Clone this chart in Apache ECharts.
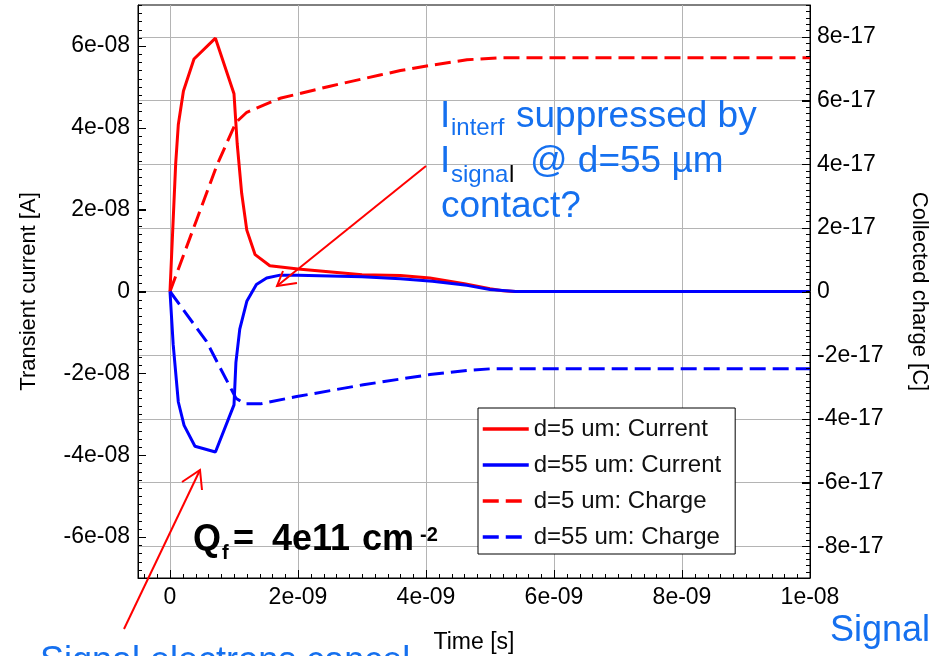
<!DOCTYPE html>
<html>
<head>
<meta charset="utf-8">
<script src="https://cdn.jsdelivr.net/npm/echarts@6/dist/echarts.min.js"></script>
<style>
html,body{margin:0;padding:0;background:#fff;}
#chart{width:931px;height:656px;}
</style>
</head>
<body>
<div id="chart"></div>
<script>
// ---- data (time in s, current in A, charge in C) ----
const tRedCur = [0, 0.089e-9, 0.13e-9, 0.21e-9, 0.375e-9, 0.71e-9, 1.0e-9, 1.05e-9, 1.12e-9, 1.2e-9, 1.33e-9, 1.56e-9, 2.0e-9, 3.0e-9, 3.6e-9, 4.06e-9, 4.6e-9, 5.0e-9, 5.2e-9, 5.4e-9, 1e-8];
const iRedCur = [0, 3.13e-8, 4.08e-8, 4.9e-8, 5.68e-8, 6.19e-8, 4.83e-8, 3.61e-8, 2.4e-8, 1.5e-8, 0.9e-8, 0.63e-8, 0.55e-8, 0.41e-8, 0.39e-8, 0.33e-8, 0.19e-8, 0.065e-8, 0.02e-8, 0, 0];

const tBlueCur = [0, 0.05e-9, 0.13e-9, 0.22e-9, 0.39e-9, 0.71e-9, 1.0e-9, 1.03e-9, 1.09e-9, 1.2e-9, 1.35e-9, 1.51e-9, 1.72e-9, 2.0e-9, 3.0e-9, 3.6e-9, 4.1e-9, 4.64e-9, 5.0e-9, 5.4e-9, 1e-8];
const iBlueCur = [0, -1.3e-8, -2.7e-8, -3.27e-8, -3.78e-8, -3.92e-8, -2.77e-8, -1.73e-8, -0.92e-8, -0.24e-8, 0.17e-8, 0.33e-8, 0.40e-8, 0.40e-8, 0.36e-8, 0.31e-8, 0.25e-8, 0.15e-8, 0.05e-8, 0, 0];

const tRedChg = [0, 0.42e-9, 0.73e-9, 1.03e-9, 1.2e-9, 1.72e-9, 2.5e-9, 3.28e-9, 3.6e-9, 4.06e-9, 4.64e-9, 5.16e-9, 1e-8];
const qRedChg = [0, 2.27e-17, 3.95e-17, 5.31e-17, 5.63e-17, 6.07e-17, 6.45e-17, 6.8e-17, 6.94e-17, 7.1e-17, 7.28e-17, 7.34e-17, 7.34e-17];

const tBlueChg = [0, 0.57e-9, 1.03e-9, 1.17e-9, 1.41e-9, 1.98e-9, 3.02e-9, 3.6e-9, 4.06e-9, 4.64e-9, 5.0e-9, 1e-8];
const qBlueChg = [0, -1.57e-17, -3.35e-17, -3.53e-17, -3.53e-17, -3.3e-17, -2.93e-17, -2.75e-17, -2.61e-17, -2.48e-17, -2.43e-17, -2.43e-17];

const seriesNames = ['d=5 um: Current', 'd=55 um: Current', 'd=5 um: Charge', 'd=55 um: Charge'];

// ---- ticks ----
const xTicks = [0, 2e-9, 4e-9, 6e-9, 8e-9, 1e-8];
const xTickLabels = ['0', '2e-09', '4e-09', '6e-09', '8e-09', '1e-08'];
const yLTicks = [-6e-8, -4e-8, -2e-8, 0, 2e-8, 4e-8, 6e-8];
const yLTickLabels = ['-6e-08', '-4e-08', '-2e-08', '0', '2e-08', '4e-08', '6e-08'];
const yRTicks = [-8e-17, -6e-17, -4e-17, -2e-17, 0, 2e-17, 4e-17, 6e-17, 8e-17];
const yRTickLabels = ['-8e-17', '-6e-17', '-4e-17', '-2e-17', '0', '2e-17', '4e-17', '6e-17', '8e-17'];

const X_MIN = -5e-10, X_MAX = 1e-8;
const YL_MIN = -7e-8, YL_MAX = 7e-8;
const YR_MIN = -9e-17, YR_MAX = 9e-17;

function steps(from, to, step) {
  const out = [];
  const n = Math.round((to - from) / step);
  for (let i = 0; i <= n; i++) out.push(from + i * step);
  return out;
}
const xMinor = steps(-4e-10, 1e-8, 2e-10);
const yLMinor = steps(-7e-8, 7e-8, 2e-9);
const yRMinor = steps(-9e-17, 9e-17, 2e-18);

function fmt(vals, labels) {
  const tol = Math.abs(vals[vals.length - 1]) * 1e-6;
  return function (v) {
    for (let i = 0; i < vals.length; i++) if (Math.abs(v - vals[i]) <= tol) return labels[i];
    return '';
  };
}
function pairs(t, v) { return t.map((x, i) => [x, v[i]]); }

const FONT = '"Liberation Sans", Arial, Helvetica, sans-serif';
const BLUE_TXT = '#1570ef';
const GRID_C = '#b4b4b4';

const chart = echarts.init(document.getElementById('chart'), null, {renderer: 'canvas'});

const txt = (x, y, s, size, color, bold) => ({
  type: 'text', x: x, y: y, z: 100,
  style: {text: s, fill: color, font: (bold ? 'bold ' : '') + size + 'px ' + FONT,
          textAlign: 'left', textVerticalAlign: 'middle'}
});
const pl = (pts) => ({
  type: 'polyline', z: 100, shape: {points: pts},
  style: {stroke: '#ff0000', lineWidth: 2, fill: null}
});

// tick-mark series drawn through the axes' scales (api.coord)
// side: 'bottom' | 'left' | 'right'
function tickSeries(side, values, len, yAxisIndex) {
  let data;
  if (side === 'bottom') data = values.map(v => [v, YL_MIN]);
  else if (side === 'left') data = values.map(v => [X_MIN, v]);
  else data = values.map(v => [X_MAX, v]);
  return {
    type: 'custom', xAxisIndex: 0, yAxisIndex: yAxisIndex, data: data,
    silent: true, clip: false, z: 6, animation: false,
    renderItem: function (params, api) {
      const p = api.coord([api.value(0), api.value(1)]);
      let x1, y1, x2, y2;
      if (side === 'bottom') {
        x1 = x2 = Math.round(p[0]) + 0.5; y1 = Math.round(p[1]); y2 = y1 - len;
      } else if (side === 'left') {
        y1 = y2 = Math.round(p[1]) + 0.5; x1 = Math.round(p[0]); x2 = x1 + len;
      } else {
        y1 = y2 = Math.round(p[1]) + 0.5; x1 = Math.round(p[0]); x2 = x1 - len;
      }
      return {type: 'line', shape: {x1: x1, y1: y1, x2: x2, y2: y2},
              style: {stroke: '#000', lineWidth: 1}};
    }
  };
}

const option = {
  animation: false,
  backgroundColor: '#fff',
  grid: {left: 138, right: 121, top: 5, bottom: 78, show: true, borderColor: '#000', borderWidth: 1,
         backgroundColor: 'transparent', containLabel: false, outerBoundsMode: 'none'},
  legend: {
    orient: 'vertical', left: 478, top: 408,
    data: seriesNames,
    itemWidth: 46, itemHeight: 14, itemGap: 12,
    padding: [9, 14, 5, 3],
    backgroundColor: '#fff', borderColor: '#000', borderWidth: 1,
    itemStyle: {opacity: 0},
    lineStyle: {width: 3.5},
    textStyle: {fontSize: 24, color: '#111', fontFamily: FONT},
    selectedMode: false
  },
  xAxis: [
    {
      type: 'value', min: X_MIN, max: X_MAX, position: 'bottom',
      axisLine: {show: true, onZero: false, lineStyle: {color: '#000', width: 1}},
      axisTick: {show: true, inside: true, length: 8, customValues: xTicks, lineStyle: {color: '#000', width: 1}},
      axisLabel: {customValues: xTicks, formatter: fmt(xTicks, xTickLabels), fontSize: 23, color: '#000', fontFamily: FONT, margin: 8},
      splitLine: {show: true, lineStyle: {color: GRID_C, width: 1}},
      name: 'Time [s]', nameLocation: 'middle', nameGap: 53,
      nameTextStyle: {fontSize: 23, color: '#000', fontFamily: FONT}
    }
  ],
  yAxis: [
    {
      type: 'value', min: YL_MIN, max: YL_MAX, position: 'left',
      axisLine: {show: true, onZero: false, lineStyle: {color: '#000', width: 1}},
      axisTick: {show: true, inside: true, length: 8, customValues: yLTicks, lineStyle: {color: '#000', width: 1}},
      axisLabel: {customValues: yLTicks, formatter: fmt(yLTicks, yLTickLabels), fontSize: 23, color: '#000', fontFamily: FONT, margin: 8},
      splitLine: {show: false},
      name: 'Transient current [A]', nameLocation: 'middle', nameGap: 98,
      nameTextStyle: {fontSize: 22, color: '#000', fontFamily: FONT}
    },
    {
      type: 'value', min: YR_MIN, max: YR_MAX, position: 'right',
      axisLine: {show: true, onZero: false, lineStyle: {color: '#000', width: 1}},
      axisTick: {show: true, inside: true, length: 8, customValues: yRTicks, lineStyle: {color: '#000', width: 1}},
      axisLabel: {customValues: yRTicks, formatter: fmt(yRTicks, yRTickLabels), fontSize: 23, color: '#000', fontFamily: FONT, margin: 7},
      splitLine: {show: true, lineStyle: {color: GRID_C, width: 1}},
      name: 'Collected charge [C]', nameLocation: 'middle', nameGap: 98, nameRotate: -90,
      nameTextStyle: {fontSize: 22, color: '#000', fontFamily: FONT}
    }
  ],
  series: [
    {name: seriesNames[0], type: 'line', xAxisIndex: 0, yAxisIndex: 0, data: pairs(tRedCur, iRedCur),
     symbol: 'none', color: '#ff0000', lineStyle: {color: '#ff0000', width: 3}, z: 3},
    {name: seriesNames[1], type: 'line', xAxisIndex: 0, yAxisIndex: 0, data: pairs(tBlueCur, iBlueCur),
     symbol: 'none', color: '#0000ff', lineStyle: {color: '#0000ff', width: 3}, z: 4},
    {name: seriesNames[2], type: 'line', xAxisIndex: 0, yAxisIndex: 1, data: pairs(tRedChg, qRedChg),
     symbol: 'none', color: '#ff0000', lineStyle: {color: '#ff0000', width: 3, type: [16, 7]}, z: 3},
    {name: seriesNames[3], type: 'line', xAxisIndex: 0, yAxisIndex: 1, data: pairs(tBlueChg, qBlueChg),
     symbol: 'none', color: '#0000ff', lineStyle: {color: '#0000ff', width: 3, type: [16, 7]}, z: 3},
    tickSeries('bottom', xMinor, 4, 0),
    tickSeries('bottom', xTicks, 8, 0),
    tickSeries('left', yLMinor, 4, 0),
    tickSeries('left', yLTicks, 8, 0),
    tickSeries('right', yRMinor, 4, 1),
    tickSeries('right', yRTicks, 8, 1)
  ],
  graphic: {elements: [
    txt(440, 117, 'I', 37, BLUE_TXT),
    txt(451, 128.5, 'interf', 24, BLUE_TXT),
    txt(516, 117, 'suppressed by', 37, BLUE_TXT),
    txt(440, 162, 'I', 37, BLUE_TXT),
    txt(451, 175, 'signa', 24, BLUE_TXT),
    txt(509, 175, 'l', 24, '#000'),
    txt(530, 162, '@ d=55 µm', 37, BLUE_TXT),
    txt(441, 207, 'contact?', 37, BLUE_TXT),
    txt(193, 540, 'Q', 36, '#000', true),
    txt(222, 553, 'f', 20, '#000', true),
    txt(233, 540, '=', 36, '#000', true),
    txt(272, 540, '4e11', 36, '#000', true),
    txt(362, 540, 'cm', 36, '#000', true),
    txt(420, 535, '-2', 20, '#000', true),
    txt(40, 662, 'Signal electrons cancel', 36, BLUE_TXT),
    txt(830, 631, 'Signal', 36, BLUE_TXT),
    pl([[426, 166], [277, 286]]),
    pl([[283, 271], [277, 286], [297, 283]]),
    pl([[124, 629], [200, 470]]),
    pl([[182, 482], [200, 470], [202, 490]])
  ]}
};
chart.setOption(option);
</script>
</body>
</html>
